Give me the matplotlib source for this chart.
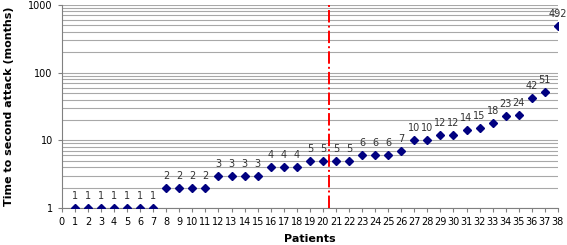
import numpy as np
import matplotlib.pyplot as plt

patients = np.arange(1, 39)
months = [1, 1, 1, 1, 1, 1, 1,
          2, 2, 2, 2,
          3, 3, 3, 3,
          4, 4, 4,
          5, 5, 5, 5,
          6, 6, 6,
          7, 10, 10, 12, 12, 14, 15, 18, 23, 24, 42, 51, 492]

fig = plt.figure(figsize=(5.67, 2.45), dpi=100)
ax = fig.add_axes([0.109, 0.151, 0.875, 0.829])

ax.set_yscale('log')
ax.set_ylim(1, 1000)
ax.set_xlim(0, 38)

# horizontal grid, major and minor
ax.grid(True, which='both', axis='y', color='#a8a8a8', linewidth=0.8)
ax.set_axisbelow(True)

ax.plot(patients, months, linestyle='none', marker='D', markersize=4.2,
        color='#000080', zorder=3)

for p, m in zip(patients, months):
    ax.annotate(str(m), (p, m), xytext=(0, 5), textcoords='offset points',
                ha='center', va='bottom', fontsize=7, color='#333333')

ax.axvline(20.5, color='red', linestyle='-.', linewidth=1.4, zorder=4)

ax.set_xticks(range(0, 39))
ax.set_yticks([1, 10, 100, 1000])
ax.set_yticklabels(['1', '10', '100', '1000'])
ax.tick_params(axis='both', labelsize=7, color='#808080', length=3)
ax.tick_params(axis='y', which='minor', length=0)

for s in ['top', 'right']:
    ax.spines[s].set_visible(False)
for s in ['left', 'bottom']:
    ax.spines[s].set_color('#808080')

ax.set_xlabel('Patients', fontsize=8, fontweight='bold', labelpad=5)
ax.set_ylabel('Time to second attack (months)', fontsize=8, fontweight='bold', labelpad=10)

fig.savefig('out.png', dpi=100)
